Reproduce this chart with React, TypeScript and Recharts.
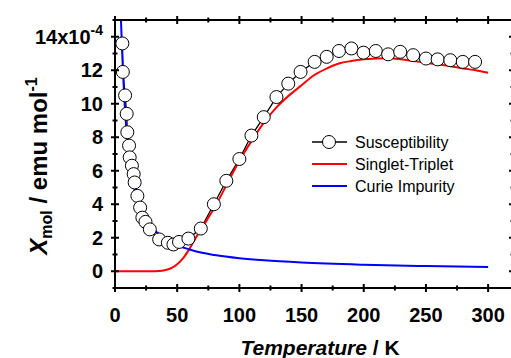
import { LineChart, Line, XAxis, YAxis, Legend } from 'recharts';

// measured susceptibility (x10^-4 emu/mol) vs temperature (K)
const suscT = [5.9, 6.3, 8.1, 9.4, 9.9, 11.3, 11.8, 13.6, 15.0, 15.8, 18.0, 20.2, 22.0, 24.5, 28.0, 35.5, 42.5, 47.0, 51.5, 59.0, 69.0, 79.5, 89.5, 100, 109.7, 119.6, 129.8, 139.3, 149.2, 160.5, 170.2, 180.1, 190.1, 199.8, 209.7, 219.6, 229.3, 239.7, 250, 259.4, 269.6, 279.6, 289.5];
const suscChi = [13.6, 11.9, 10.5, 9.4, 8.3, 7.5, 6.8, 6.3, 5.8, 5.3, 4.5, 3.8, 3.2, 2.95, 2.5, 1.9, 1.7, 1.6, 1.75, 1.95, 2.55, 4.0, 5.4, 6.7, 8.1, 9.2, 10.4, 11.2, 11.9, 12.5, 12.8, 13.15, 13.3, 13.05, 13.15, 12.95, 13.1, 12.9, 12.7, 12.65, 12.6, 12.5, 12.5];

// singlet-triplet fit
const stT = [0, 10, 20, 30, 35, 40, 45, 50, 55, 60, 65, 70, 80, 90, 100, 110, 120, 130, 140, 150, 160, 170, 180, 190, 200, 210, 220, 230, 240, 250, 260, 270, 280, 290, 300];
const stChi = [0, 0, 0, 0, 0.01, 0.06, 0.18, 0.42, 0.8, 1.35, 2.0, 2.6, 3.8, 5.2, 6.6, 7.8, 8.9, 9.8, 10.5, 11.1, 11.7, 12.1, 12.4, 12.55, 12.65, 12.7, 12.72, 12.65, 12.55, 12.45, 12.35, 12.24, 12.1, 12.0, 11.85];

// Curie impurity
const curieT = [4.8, 5.5, 6.5, 8, 10, 12, 15, 20, 25, 30, 40, 50, 60, 70, 80, 100, 120, 150, 200, 250, 300];
const curieChi = [15, 13.6, 11.8, 9.7, 7.7, 6.4, 5.1, 3.9, 3.1, 2.6, 1.95, 1.55, 1.3, 1.1, 0.97, 0.78, 0.65, 0.52, 0.39, 0.31, 0.26];

const xTicks = [0, 25, 50, 75, 100, 125, 150, 175, 200, 225, 250, 275, 300];
const yTicks = [-1, 0, 1, 2, 3, 4, 5, 6, 7, 8, 9, 10, 11, 12, 13, 14, 15];

const susc = suscT.map((t, i) => ({ t, v: suscChi[i] }));
const st = stT.map((t, i) => ({ t, v: stChi[i] }));
const curie = curieT.map((t, i) => ({ t, v: curieChi[i] }));

const FONT = 'Arial, "Liberation Sans", Helvetica, sans-serif';

function BottomTick({ x, y, payload }: any) {
  const major = payload.value % 50 === 0;
  const h = major ? 4 : 2.5;
  return (
    <g>
      <line x1={x} x2={x} y1={y - h} y2={y + h} stroke="#000" strokeWidth={2} />
      {major && (
        <text x={x} y={y + 34} textAnchor="middle" fontFamily={FONT} fontWeight="bold" fontSize={20} fill="#000">
          {payload.value}
        </text>
      )}
    </g>
  );
}

function TopTick({ x, y, payload }: any) {
  const h = payload.value % 50 === 0 ? 4 : 2.5;
  return <line x1={x} x2={x} y1={y - h} y2={y + h} stroke="#000" strokeWidth={2} />;
}

function LeftTick({ x, y, payload }: any) {
  const v = payload.value;
  const major = v % 2 === 0;
  const h = major ? 4 : 2.5;
  return (
    <g>
      <line x1={x - h} x2={x + h} y1={y} y2={y} stroke="#000" strokeWidth={2} />
      {major && v >= 0 && (
        <text x={x - 12} y={y + 7} textAnchor="end" fontFamily={FONT} fontWeight="bold" fontSize={20} fill="#000">
          {v === 14 ? (
            <>
              <tspan>14x10</tspan>
              <tspan dy={-9} fontSize={14}>-4</tspan>
            </>
          ) : (
            v
          )}
        </text>
      )}
    </g>
  );
}

function RightTick({ x, y, payload }: any) {
  const h = payload.value % 2 === 0 ? 4 : 2.5;
  return <line x1={x - h} x2={x + h} y1={y} y2={y} stroke="#000" strokeWidth={2} />;
}

function LegendBox() {
  const rows = [
    { name: 'Susceptibility', color: '#000', dot: true },
    { name: 'Singlet-Triplet', color: '#ff0000', dot: false },
    { name: 'Curie Impurity', color: '#0000ff', dot: false },
  ];
  return (
    <svg width={200} height={72}>
      {rows.map((r, i) => {
        const cy = 14 + i * 22;
        return (
          <g key={r.name}>
            <line x1={12} x2={47} y1={cy} y2={cy} stroke={r.color} strokeWidth={r.dot ? 1.3 : 2} />
            {r.dot && <circle cx={29} cy={cy} r={6.5} fill="#fff" stroke="#000" strokeWidth={1} />}
            <text x={55} y={cy + 6} fontFamily={FONT} fontSize={16} fill="#000">
              {r.name}
            </text>
          </g>
        );
      })}
    </svg>
  );
}

export default function App() {
  return (
    <div style={{ position: 'absolute', left: 0, top: 0, width: 511, height: 358, overflow: 'hidden', background: '#fff' }}>
      <LineChart width={520} height={358} margin={{ top: 19, right: 6, bottom: 0, left: 0 }}>
        <XAxis
          dataKey="t"
          type="number"
          domain={[0, 320]}
          ticks={xTicks}
          interval={0}
          height={70}
          tickSize={0}
          tickMargin={0}
          tickLine={false}
          axisLine={{ stroke: '#000', strokeWidth: 2 }}
          tick={BottomTick}
          allowDataOverflow
          label={{
            content: () => (
              <text x={320} y={355} textAnchor="middle" fontFamily={FONT} fontWeight="bold" fontSize={21} fill="#000">
                <tspan fontStyle="italic">Temperature</tspan>
                <tspan> / K</tspan>
              </text>
            ),
          }}
        />
        <XAxis
          xAxisId="top"
          orientation="top"
          dataKey="t"
          type="number"
          domain={[0, 320]}
          ticks={xTicks}
          interval={0}
          height={1}
          tickSize={0}
          tickMargin={0}
          tickLine={false}
          axisLine={{ stroke: '#000', strokeWidth: 2 }}
          tick={TopTick}
          allowDataOverflow
        />
        <YAxis
          type="number"
          domain={[-1, 15]}
          ticks={yTicks}
          interval={0}
          width={115}
          tickSize={0}
          tickMargin={0}
          tickLine={false}
          axisLine={{ stroke: '#000', strokeWidth: 2 }}
          tick={LeftTick}
          allowDataOverflow
          label={{
            content: () => (
              <text transform="translate(47,166) rotate(-90)" textAnchor="middle" fontFamily={FONT} fontWeight="bold" fontSize={24} fill="#000">
                <tspan fontStyle="italic">Χ</tspan>
                <tspan dy={5} fontSize={16}>mol</tspan>
                <tspan dy={-5}> / emu mol</tspan>
                <tspan dy={-10} fontSize={16}>-1</tspan>
              </text>
            ),
          }}
        />
        <YAxis
          yAxisId="r"
          orientation="right"
          type="number"
          domain={[-1, 15]}
          ticks={yTicks}
          interval={0}
          width={1}
          tickSize={0}
          tickMargin={0}
          tickLine={false}
          axisLine={{ stroke: '#000', strokeWidth: 2 }}
          tick={RightTick}
          allowDataOverflow
        />
        <Legend
          layout="horizontal"
          verticalAlign="middle"
          content={() => <LegendBox />}
          wrapperStyle={{ position: 'absolute', left: 300, top: 128, width: 200, height: 72 }}
        />
        <Line
          data={susc}
          dataKey="v"
          name="Susceptibility"
          type="linear"
          stroke="#000"
          strokeWidth={1.3}
          dot={{ r: 6.5, fill: '#fff', stroke: '#000', strokeWidth: 1 }}
          isAnimationActive={false}
        />
        <Line
          data={st}
          dataKey="v"
          name="Singlet-Triplet"
          type="monotone"
          stroke="#ff0000"
          strokeWidth={2}
          dot={false}
          isAnimationActive={false}
        />
        <Line
          data={curie}
          dataKey="v"
          name="Curie Impurity"
          type="monotone"
          stroke="#0000ff"
          strokeWidth={2}
          dot={false}
          isAnimationActive={false}
        />
      </LineChart>
    </div>
  );
}
